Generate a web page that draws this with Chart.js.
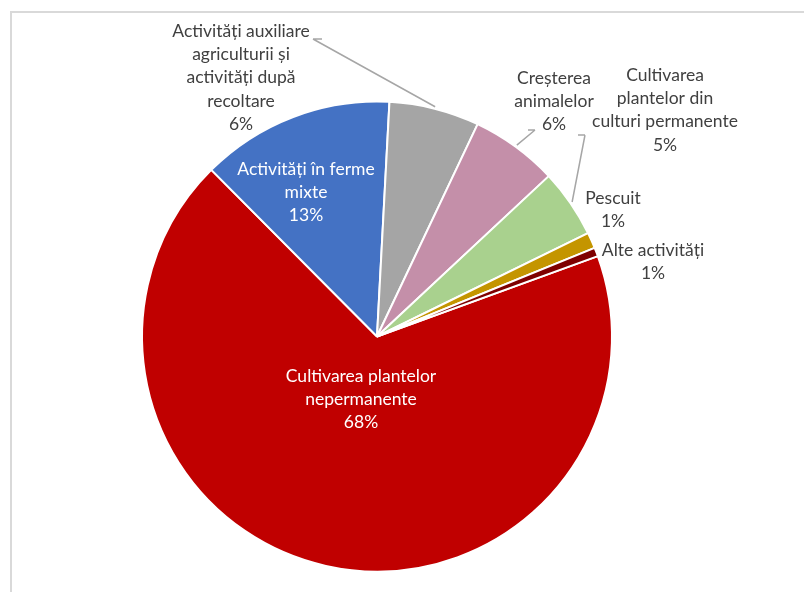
<!DOCTYPE html>
<html>
<head>
<meta charset="utf-8">
<script src="https://cdn.jsdelivr.net/npm/chart.js@4"></script>
<style>
  html, body { margin: 0; padding: 0; background: #fff; }
  #wrap { position: relative; width: 804px; height: 592px; overflow: hidden; }
  #frame { position: absolute; left: 10px; top: 11px; width: 900px; height: 700px;
           border-left: 2px solid #d9d9d9; border-top: 2px solid #d9d9d9; }
  canvas { position: absolute; left: 0; top: 0; }
</style>
</head>
<body>
<div id="wrap">
  <div id="frame"></div>
  <canvas id="pie-chart" width="804" height="592"></canvas>
</div>
<script>
// categories in drawing order (clockwise, starting with the big red slice)
const categories = [
    'Cultivarea plantelor nepermanente',
    'Activități în ferme mixte',
    'Activități auxiliare agriculturii și activități după recoltare',
    'Creșterea animalelor',
    'Cultivarea plantelor din culturi permanente',
    'Pescuit',
    'Alte activități'
];
// share of each activity, %
const shares = [68.1, 13.3, 6.2, 6.0, 4.7, 1.1, 0.6];
// label text as wrapped in the original
const labelLines = [
    ['Cultivarea plantelor', 'nepermanente'],
    ['Activități în ferme', 'mixte'],
    ['Activități auxiliare', 'agriculturii și', 'activități după', 'recoltare'],
    ['Creșterea', 'animalelor'],
    ['Cultivarea', 'plantelor din', 'culturi permanente'],
    ['Pescuit'],
    ['Alte activități']
];
const colors = ['#C00000', '#4472C4', '#A5A5A5', '#C48FA9', '#A9D18E', '#C49500', '#7F0000'];

// where each label sits, relative to the pie centre (px), and the leader elbow points
const labelLayout = [
    { x: -16, y: 39.5, color: '#ffffff' },
    { x: -71, y: -167.5, color: '#ffffff' },
    { x: -136, y: -305.5, leader: [[-64, -297.5], [-55, -297.5]] },
    { x: 177, y: -258.5, leader: [[158, -206.5], [151, -206.5]] },
    { x: 288, y: -261.5, leader: [[208, -201.5], [201, -201.5]] },
    { x: 236, y: -138.5 },
    { x: 276, y: -86.5 }
];

const pieLabels = {
    id: 'pieLabels',
    afterDatasetsDraw(chart) {
        const ctx = chart.ctx;
        const arcs = chart.getDatasetMeta(0).data;
        const values = chart.data.datasets[0].data;
        const total = values.reduce((a, b) => a + b, 0);
        ctx.save();
        ctx.font = '17.5px Lato';
        ctx.textAlign = 'center';
        ctx.textBaseline = 'middle';
        arcs.forEach((arc, i) => {
            const lay = labelLayout[i];
            const cx = arc.x, cy = arc.y;
            if (lay.leader) {
                const mid = (arc.startAngle + arc.endAngle) / 2;
                const r = arc.outerRadius + 2;
                ctx.strokeStyle = '#A6A6A6';
                ctx.lineWidth = 1.5;
                ctx.beginPath();
                ctx.moveTo(cx + lay.leader[0][0], cy + lay.leader[0][1]);
                ctx.lineTo(cx + lay.leader[1][0], cy + lay.leader[1][1]);
                ctx.moveTo(cx + lay.leader[0][0], cy + lay.leader[0][1]);
                ctx.lineTo(cx + Math.cos(mid) * r, cy + Math.sin(mid) * r);
                ctx.stroke();
            }
            const lines = labelLines[i].concat([Math.round(values[i] / total * 100) + '%']);
            ctx.fillStyle = lay.color || '#404040';
            lines.forEach((t, k) => {
                ctx.fillText(t, cx + lay.x, cy + lay.y + k * 23.3);
            });
        });
        ctx.restore();
    }
};

const ctx = document.getElementById('pie-chart').getContext('2d');
new Chart(ctx, {
    type: 'pie',
    data: {
        labels: categories,
        datasets: [{
            data: shares,
            backgroundColor: colors,
            borderColor: '#ffffff',
            borderWidth: 2
        }]
    },
    options: {
        responsive: false,
        animation: false,
        rotation: 70,
        layout: { padding: { left: 141, right: 191, top: 100.5, bottom: 19.5 } },
        plugins: {
            legend: { display: false },
            tooltip: { enabled: false }
        }
    },
    plugins: [pieLabels]
});
</script>
</body>
</html>
